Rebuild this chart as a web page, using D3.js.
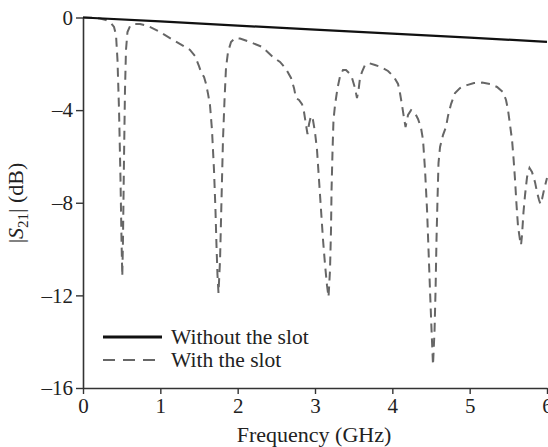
<!DOCTYPE html>
<html>
<head>
<meta charset="utf-8">
<script src="https://cdn.jsdelivr.net/npm/d3@7"></script>
<style>
  body { margin: 0; background: #fff; }
  svg text { font-family: "Times New Roman", "Liberation Serif", Times, "DejaVu Serif", serif; fill: #222; }
</style>
</head>
<body>
<script>
// frequency (GHz) and |S21| (dB)

var solidFreq = [0, 1, 2, 3, 4, 5, 6];
var solidDb = [0, -0.17, -0.35, -0.52, -0.70, -0.87, -1.05];

var slotFreq = [0.000, 0.116, 0.220, 0.297, 0.362, 0.401, 0.427, 0.446, 0.466, 0.485,
  0.498, 0.508, 0.517, 0.530, 0.543, 0.556, 0.575, 0.608, 0.660, 0.737,
  0.841, 0.970, 1.125, 1.280, 1.384, 1.448, 1.500, 1.526, 1.565, 1.591,
  1.617, 1.642, 1.668, 1.694, 1.713, 1.726, 1.739, 1.752, 1.772, 1.791,
  1.810, 1.830, 1.849, 1.875, 1.914, 1.966, 2.030, 2.160, 2.315, 2.457,
  2.548, 2.625, 2.690, 2.729, 2.754, 2.793, 2.832, 2.858, 2.884, 2.903,
  2.923, 2.948, 2.974, 3.000, 3.026, 3.052, 3.078, 3.104, 3.130, 3.155,
  3.175, 3.194, 3.207, 3.214, 3.227, 3.239, 3.259, 3.291, 3.324, 3.362,
  3.401, 3.440, 3.479, 3.517, 3.543, 3.563, 3.582, 3.608, 3.647, 3.699,
  3.776, 3.854, 3.944, 4.022, 4.074, 4.099, 4.125, 4.151, 4.171, 4.203,
  4.242, 4.293, 4.332, 4.371, 4.397, 4.423, 4.449, 4.468, 4.487, 4.507,
  4.526, 4.546, 4.559, 4.571, 4.584, 4.597, 4.617, 4.655, 4.694, 4.720,
  4.759, 4.811, 4.875, 4.966, 5.056, 5.160, 5.263, 5.354, 5.431, 5.470,
  5.496, 5.522, 5.548, 5.567, 5.587, 5.606, 5.625, 5.651, 5.664, 5.677,
  5.696, 5.716, 5.742, 5.774, 5.806, 5.845, 5.871, 5.897, 5.916, 5.936,
  5.961, 6.000];
var slotDb = [0.00, -0.01, -0.04, -0.11, -0.24, -0.41, -0.76, -1.84, -4.00, -7.02,
  -9.61, -11.17, -9.61, -6.16, -3.13, -1.40, -0.63, -0.37, -0.28, -0.28,
  -0.37, -0.58, -0.89, -1.19, -1.40, -1.66, -2.10, -2.35, -2.57, -2.87,
  -3.30, -3.78, -4.86, -6.59, -8.32, -9.83, -11.12, -11.90, -10.48, -7.88,
  -5.29, -3.56, -2.18, -1.49, -1.06, -0.89, -0.91, -1.06, -1.27, -1.71,
  -1.92, -2.22, -2.61, -3.05, -3.48, -3.56, -3.74, -4.08, -4.64, -5.03,
  -4.60, -4.25, -4.43, -4.95, -5.72, -7.02, -8.32, -9.61, -10.69, -11.56,
  -12.07, -10.91, -9.18, -7.45, -5.72, -4.43, -3.78, -3.05, -2.53, -2.27,
  -2.27, -2.40, -2.61, -3.05, -3.48, -3.13, -2.61, -2.35, -2.05, -1.97,
  -2.05, -2.14, -2.31, -2.57, -2.87, -3.26, -3.78, -4.34, -4.73, -4.21,
  -4.00, -4.13, -4.38, -4.77, -5.29, -6.59, -8.32, -10.04, -11.77, -13.50,
  -15.01, -13.50, -11.77, -9.61, -7.88, -6.29, -5.59, -5.08, -4.73, -4.25,
  -3.74, -3.26, -3.05, -2.92, -2.83, -2.81, -2.87, -3.00, -3.22, -3.56,
  -4.00, -4.64, -5.29, -6.07, -7.02, -8.10, -9.01, -9.61, -9.83, -9.40,
  -8.40, -7.67, -6.89, -6.50, -6.67, -7.11, -7.54, -7.88, -8.06, -7.84,
  -7.45, -6.93];

var xTicks = [0, 1, 2, 3, 4, 5, 6];
var yTicks = [0, -4, -8, -12, -16];
var legendNames = ["Without the slot", "With the slot"];

window.onload = function(){
    var width = 548, height = 447;
    var margin = {left: 83, right: 1, top: 17.5, bottom: 59};
    var serif = "'Times New Roman', 'Liberation Serif', Times, 'DejaVu Serif', serif";

    var svg = d3.select("body").append("svg")
        .attr("width", width)
        .attr("height", height)
        .attr("font-family", serif);

    var x = d3.scaleLinear()
        .domain([0, 6])
        .range([margin.left, width - margin.right]);

    var y = d3.scaleLinear()
        .domain([-16, 0])
        .range([height - margin.bottom, margin.top]);

    var minus = function(d){ return d < 0 ? "\u2013" + Math.abs(d) : d; };

    //axes
    var xAxis = svg.append("g")
        .attr("transform", "translate(0," + (height - margin.bottom) + ")")
        .call(d3.axisBottom(x).tickValues(xTicks).tickFormat(d3.format("d")).tickSize(6).tickSizeOuter(0).tickPadding(4));
    var yAxis = svg.append("g")
        .attr("transform", "translate(" + margin.left + ",0)")
        .call(d3.axisLeft(y).tickValues(yTicks).tickFormat(minus).tickSize(7).tickSizeOuter(0).tickPadding(3));

    svg.selectAll("g").attr("font-family", serif);
    svg.selectAll(".domain").attr("stroke", "#333").attr("stroke-width", 1.6);
    svg.selectAll(".tick line").attr("stroke", "#333").attr("stroke-width", 1.4);
    svg.selectAll(".tick text")
        .attr("font-size", 21)
        .attr("fill", "#222");

    //lines
    var line = d3.line()
        .x(function(d){ return x(d[0]); })
        .y(function(d){ return y(d[1]); });

    var slotData = slotFreq.map(function(f, i){ return [f, slotDb[i]]; });
    var solidData = solidFreq.map(function(f, i){ return [f, solidDb[i]]; });

    svg.append("path")
        .datum(slotData)
        .attr("d", line)
        .attr("fill", "none")
        .attr("stroke", "#666")
        .attr("stroke-width", 2)
        .attr("stroke-dasharray", "9,6");

    svg.append("path")
        .datum(solidData)
        .attr("d", line)
        .attr("fill", "none")
        .attr("stroke", "#111")
        .attr("stroke-width", 2.2);

    //legend
    var legend = svg.append("g");
    legendNames.forEach(function(name, i){
        var ly = 337 + i * 23;
        legend.append("line")
            .attr("x1", 103).attr("x2", 162)
            .attr("y1", ly).attr("y2", ly)
            .attr("stroke", i == 0 ? "#111" : "#666")
            .attr("stroke-width", i == 0 ? 3 : 2)
            .attr("stroke-dasharray", i == 0 ? null : "12,8");
        legend.append("text")
            .attr("x", 171)
            .attr("y", ly + 7)
            .attr("font-size", 21.5)
            .text(name);
    });

    //axis titles
    svg.append("text")
        .attr("x", 314)
        .attr("y", 442)
        .attr("text-anchor", "middle")
        .attr("font-size", 22)
        .text("Frequency (GHz)");

    var yTitle = svg.append("text")
        .attr("transform", "translate(23,203) rotate(-90)")
        .attr("text-anchor", "middle")
        .attr("font-size", 22);
    yTitle.append("tspan").text("|");
    yTitle.append("tspan").attr("font-style", "italic").text("S");
    yTitle.append("tspan").attr("dy", 5).attr("font-size", 15).text("21");
    yTitle.append("tspan").attr("dy", -5).text("| (dB)");
};
</script>
</body>
</html>
